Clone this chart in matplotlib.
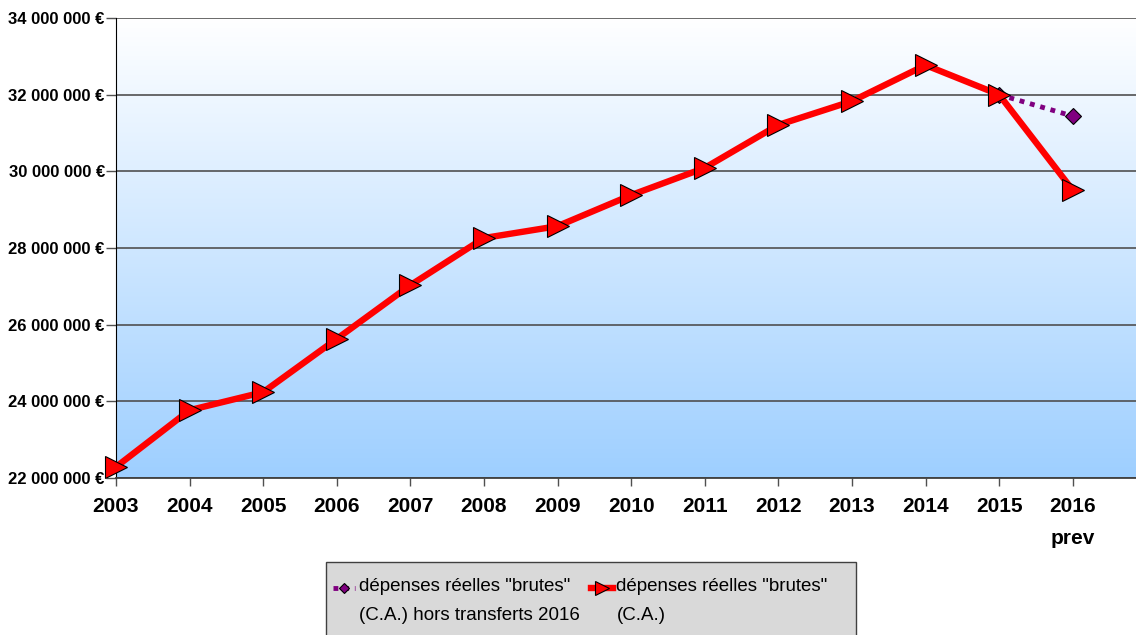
import numpy as np
import matplotlib
matplotlib.use("Agg")
import matplotlib.pyplot as plt
from matplotlib.colors import LinearSegmentedColormap
from matplotlib.legend_handler import HandlerLine2D
from matplotlib.patches import Rectangle
from matplotlib.ticker import FuncFormatter

plt.rcParams["font.family"] = ["Liberation Sans", "DejaVu Sans"]

YEARS = list(range(2003, 2017))
YEAR_LABELS = [str(y) for y in YEARS[:-1]] + ["2016\nprev"]
DEPENSES_CA = [22.29, 23.77, 24.24, 25.63, 27.03, 28.26, 28.57, 29.38,
               30.09, 31.21, 31.83, 32.77, 32.00, 29.51]  # millions EUR
HORS_TRANSFERTS_YEARS = [2015, 2016]
HORS_TRANSFERTS = [32.00, 31.44]

LABEL_HT = 'dépenses réelles "brutes"\n(C.A.) hors transferts 2016'
LABEL_CA = 'dépenses réelles "brutes"\n(C.A.)'


def euro(v, _):
    return f"{int(round(v * 1e6)):,} €".replace(",", " ")


class FirstLineHandler(HandlerLine2D):
    """Legend handle lined up with the first line of a two-line label."""
    def create_artists(self, legend, orig_handle, xdescent, ydescent,
                       width, height, fontsize, trans):
        arts = super().create_artists(legend, orig_handle, xdescent, ydescent,
                                      width, height, fontsize, trans)
        for a in arts:
            a.set_ydata(np.asarray(a.get_ydata(), dtype=float) + 9.7)
        return arts


fig = plt.figure(figsize=(11.36, 6.35), dpi=100)
ax = fig.add_axes([0.1021, 0.2472, 0.8979, 0.7245])

# vertical white -> light blue fill behind the plot
cmap = LinearSegmentedColormap.from_list("bg", ["#9ECFFF", "#FFFFFF"])
grad = np.linspace(0, 1, 256).reshape(-1, 1)
ax.imshow(grad, aspect="auto", cmap=cmap, origin="lower",
          extent=[0, 1, 0, 1], transform=ax.transAxes, zorder=0)

ax.set_xlim(2003, 2016.86)
ax.set_ylim(22, 34)
ax.set_yticks(np.arange(22, 34.1, 2))
ax.yaxis.set_major_formatter(FuncFormatter(euro))
ax.set_xticks(YEARS)
ax.set_xticklabels(YEAR_LABELS, fontsize=15, fontweight="bold", linespacing=1.85)
for t in ax.get_yticklabels():
    t.set_fontsize(12)
    t.set_fontweight("bold")

ax.grid(axis="y", color="#505050", lw=1.2, zorder=1)
ax.set_axisbelow(True)
ax.tick_params(axis="y", length=7, width=1, color="#505050", pad=1)
ax.tick_params(axis="x", length=6, width=1, color="#505050", pad=8)
for s in ["top", "right"]:
    ax.spines[s].set_visible(False)
ax.spines["left"].set_color("black")
ax.spines["bottom"].set_color("#404040")
ax.spines["bottom"].set_linewidth(1.3)

ln_ht, = ax.plot(HORS_TRANSFERTS_YEARS, HORS_TRANSFERTS, color="#800080", lw=3.5,
                 ls=(0, (1, 1.2)), marker="D", ms=8, mfc="#800080", mec="black",
                 mew=0.8, zorder=3, clip_on=False, label=LABEL_HT)
ln_ca, = ax.plot(YEARS, DEPENSES_CA, color="#FF0000", lw=4.6, marker=">", ms=16,
                 mfc="#FF0000", mec="black", mew=0.8, zorder=4, clip_on=False,
                 label=LABEL_CA)

# grey legend panel running off the bottom edge
fig.add_artist(Rectangle((0.287, -0.02), 0.4665, 0.135, transform=fig.transFigure,
                         facecolor="#D9D9D9", edgecolor="#404040", lw=1.0, zorder=1))

leg = fig.legend(handles=[ln_ht, ln_ca], loc="upper left",
                 bbox_to_anchor=(0.2931, 0.089), ncol=2, fontsize=13.5,
                 frameon=False, borderpad=0, borderaxespad=0,
                 handlelength=1.17, handletextpad=0.2, columnspacing=0.6,
                 markerscale=0.65, handler_map={ln_ht: FirstLineHandler(),
                                                ln_ca: FirstLineHandler()})
leg.set_zorder(2)
for t in leg.get_texts():
    t.set_linespacing(1.9)

fig.savefig("out.png", dpi=100)
